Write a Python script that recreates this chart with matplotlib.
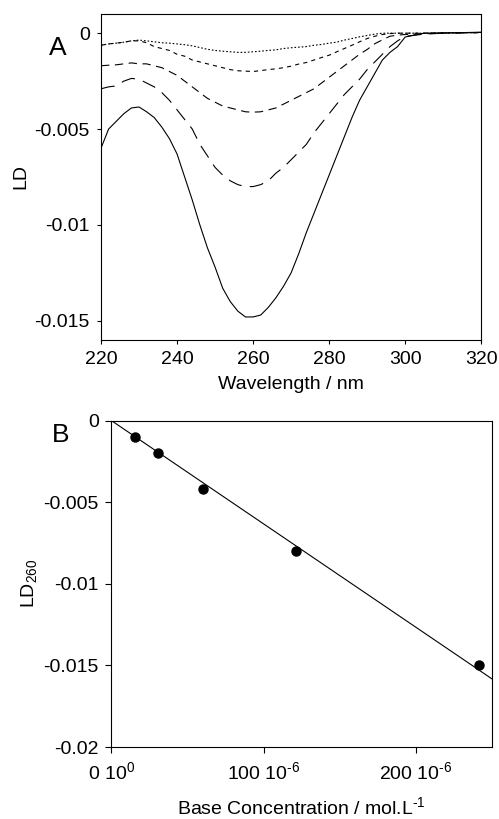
import numpy as np
import matplotlib
matplotlib.use("Agg")
import matplotlib.pyplot as plt

plt.rcParams["font.family"] = ["Liberation Sans", "DejaVu Sans"]
plt.rcParams["font.size"] = 14
plt.rcParams["axes.unicode_minus"] = False
plt.rcParams["mathtext.default"] = "regular"
plt.rcParams["lines.scale_dashes"] = False

# Panel A: LD spectra at five DNA concentrations
WL = [220, 222, 224, 226, 228, 230, 232, 234, 236, 238, 240, 242, 244, 246, 248,
      250, 252, 254, 256, 258, 260, 262, 264, 266, 268, 270, 272, 274, 276, 278,
      280, 282, 284, 286, 288, 290, 292, 294, 296, 298, 300, 305, 310, 315, 320]
LD_240 = [-0.0060, -0.0050, -0.0046, -0.0042, -0.0039, -0.00385, -0.0041, -0.0044,
          -0.0049, -0.0055, -0.0063, -0.0075, -0.0087, -0.0100, -0.0112, -0.0122,
          -0.0133, -0.0140, -0.0145, -0.0148, -0.0148, -0.0147, -0.0143, -0.0138,
          -0.0132, -0.0125, -0.0115, -0.0104, -0.0094, -0.0084, -0.0074, -0.0064,
          -0.0054, -0.0044, -0.0035, -0.0028, -0.0021, -0.0014, -0.0010, -0.0007,
          -0.0002, 0.0, 0.00002, 0.00003, 0.00005]
LD_120 = [-0.0029, -0.0028, -0.00275, -0.0025, -0.00236, -0.0024, -0.0026, -0.0028,
          -0.0031, -0.0035, -0.0040, -0.0045, -0.0050, -0.0058, -0.0064, -0.0070,
          -0.0074, -0.0077, -0.0079, -0.0080, -0.0080, -0.0079, -0.0077, -0.0073,
          -0.0070, -0.0066, -0.0062, -0.0058, -0.0052, -0.0047, -0.0042, -0.0037,
          -0.0032, -0.0028, -0.0024, -0.0019, -0.0015, -0.0011, -0.0007, -0.0004,
          -0.00016, -0.00005, 0.0, 0.00002, 0.00004]
LD_60 = [-0.0017, -0.00167, -0.00165, -0.0016, -0.00155, -0.0016, -0.0016, -0.0017,
         -0.0018, -0.0020, -0.0022, -0.0025, -0.0028, -0.0031, -0.0034, -0.0036,
         -0.0038, -0.0039, -0.0040, -0.0041, -0.00412, -0.0041, -0.0040, -0.0039,
         -0.0037, -0.0035, -0.0033, -0.0031, -0.0029, -0.0026, -0.0023, -0.0020,
         -0.0017, -0.0014, -0.0011, -0.00085, -0.00055, -0.00035, -0.00016, -0.0001,
         -0.00007, -0.00003, 0.0, 0.00002, 0.00003]
LD_30 = [-0.00063, -0.00056, -0.00052, -0.00047, -0.0004, -0.0004, -0.0005, -0.0007,
         -0.0008, -0.0009, -0.0011, -0.0012, -0.0014, -0.0015, -0.0016, -0.0017,
         -0.0018, -0.0019, -0.00196, -0.00198, -0.002, -0.00195, -0.0019, -0.00186,
         -0.0018, -0.00172, -0.00161, -0.00153, -0.0014, -0.00127, -0.00115, -0.00097,
         -0.0008, -0.00063, -0.00045, -0.00028, -0.00016, -0.00007, -0.00002, 0.0,
         0.0, 0.0, 0.00001, 0.00002, 0.00003]
LD_15 = [-0.00063, -0.00056, -0.00052, -0.00047, -0.0004, -0.00036, -0.0004, -0.00045,
         -0.0005, -0.00052, -0.00056, -0.0006, -0.00066, -0.00075, -0.00084, -0.0009,
         -0.00094, -0.00097, -0.001, -0.001, -0.00097, -0.00094, -0.0009, -0.00087,
         -0.0008, -0.00076, -0.00073, -0.0007, -0.00063, -0.00059, -0.00052, -0.00047,
         -0.00036, -0.00028, -0.00019, -0.00012, -0.00005, 0.0, 0.0, 0.0,
         0.0, 0.0, 0.00001, 0.00002, 0.00003]

# Panel B: LD at 260 nm vs base concentration
CONC = [15.5e-6, 30.5e-6, 60.5e-6, 121e-6, 241.5e-6]
LD260 = [-0.001, -0.002, -0.0042, -0.008, -0.015]

YT_A = [0, -0.005, -0.01, -0.015]
YT_A_LAB = ["0", "-0.005", "-0.01", "-0.015"]
YT_B = [0, -0.005, -0.01, -0.015, -0.02]
YT_B_LAB = ["0", "-0.005", "-0.01", "-0.015", "-0.02"]
XT_B = [0, 100e-6, 200e-6]
XT_B_LAB = ["0 10$^{0}$", "100 10$^{\u2010 6}$", "200 10$^{\u2010 6}$"]

fig = plt.figure(figsize=(4.99, 8.19), dpi=100)

ax = fig.add_axes([0.2024, 0.5849, 0.762, 0.398])
styles = [(LD_240, "-"), (LD_120, (0, (10, 6))), (LD_60, (0, (6, 4))),
          (LD_30, (0, (3, 3))), (LD_15, (0, (1.2, 1.4)))]
for ys, ls in styles:
    ax.plot(WL, ys, color="black", lw=0.8, linestyle=ls)
ax.set_xlim(220, 320)
ax.set_ylim(-0.016, 0.001)
ax.set_xticks([220, 240, 260, 280, 300, 320])
ax.set_yticks(YT_A)
ax.set_yticklabels(YT_A_LAB)
ax.tick_params(length=3, width=0.8, pad=5)
ax.set_xlabel("Wavelength / nm", labelpad=6)
ax.set_ylabel("LD", labelpad=4)
ax.text(-0.115, 0.895, "A", transform=ax.transAxes, fontsize=19, ha="center", va="center")

bx = fig.add_axes([0.2234, 0.0879, 0.762, 0.3985])
bx.plot(CONC, LD260, "o", color="black", ms=6.5)
c = np.array(CONC)
slope = np.sum(c * np.array(LD260)) / np.sum(c ** 2)
xl = np.array([0, 250e-6])
bx.plot(xl, slope * xl, color="black", lw=0.8)
bx.set_xlim(0, 250e-6)
bx.set_ylim(-0.02, 0)
bx.set_xticks(XT_B)
bx.set_xticklabels(XT_B_LAB)
bx.set_yticks(YT_B)
bx.set_yticklabels(YT_B_LAB)
bx.tick_params(length=4, width=0.8, pad=5)
bx.tick_params(axis="x", pad=6)
bx.set_xlabel("Base Concentration / mol.L$^{\u2010 1}$", labelpad=10)
bx.set_ylabel("LD$_{260}$", labelpad=3)
bx.text(-0.135, 0.955, "B", transform=bx.transAxes, fontsize=19, ha="center", va="center")

for a in (ax, bx):
    for s in a.spines.values():
        s.set_linewidth(0.8)

fig.savefig("out.png", dpi=100)
